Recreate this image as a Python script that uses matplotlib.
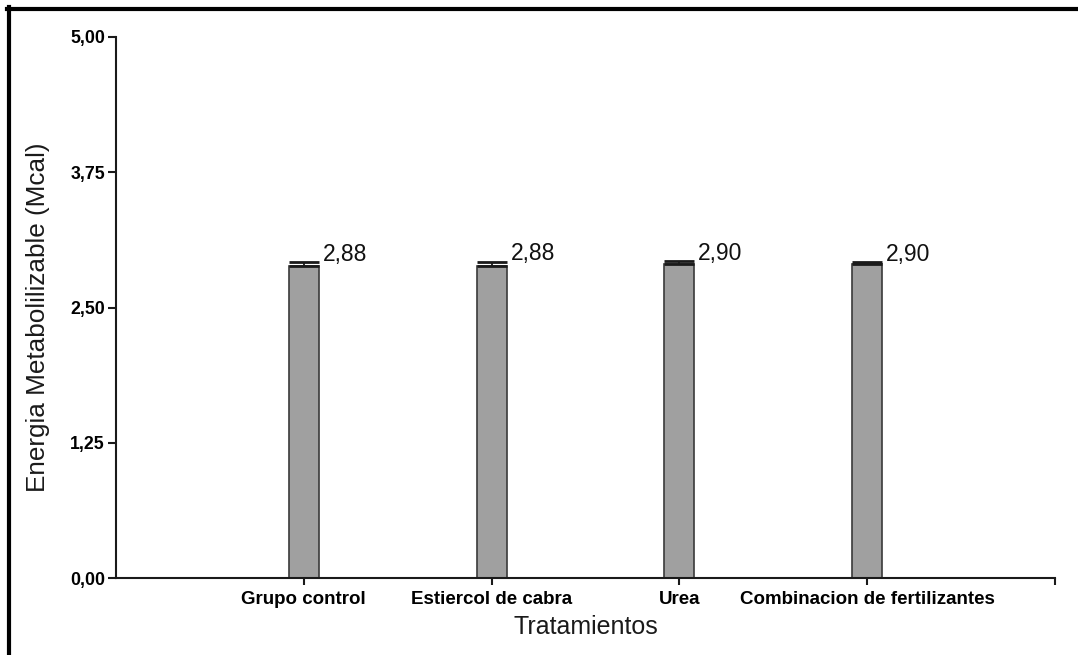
import matplotlib
matplotlib.use("Agg")
import matplotlib.pyplot as plt
from matplotlib.lines import Line2D

categories = ["Grupo control", "Estiercol de cabra", "Urea", "Combinacion de fertilizantes"]
values = [2.88, 2.88, 2.90, 2.90]
errors = [0.04, 0.045, 0.03, 0.02]
value_labels = ["2,88", "2,88", "2,90", "2,90"]
yticks = [0.0, 1.25, 2.5, 3.75, 5.0]
ytick_labels = ["0,00", "1,25", "2,50", "3,75", "5,00"]

plt.rcParams['font.family'] = ['Liberation Sans', 'DejaVu Sans']

W, H = 1078, 655
fig = plt.figure(figsize=(W/100, H/100), dpi=100)
ax = fig.add_axes([116/W, 1-578/H, (1055-116)/W, (578-37)/H])

x = list(range(len(categories)))
ax.bar(x, values, width=0.16, color="#a0a0a0", edgecolor="#3a3a3a", linewidth=1.2, zorder=2)
ax.errorbar(x, values, yerr=[[0]*len(values), errors], fmt="none", ecolor="#1a1a1a",
            elinewidth=1.3, capsize=10.8, capthick=2.0, zorder=3)
for xi, v, e, lab in zip(x, values, errors, value_labels):
    ax.text(xi + 0.1, v + e - 0.035, lab, fontsize=16.5, ha="left", va="bottom", color="#111111")

ax.set_xlim(-1, 4)
ax.set_ylim(0, 5)
ax.set_yticks(yticks)
ax.set_yticklabels(ytick_labels, fontsize=12.8, fontweight="bold")
ax.set_xticks(x)
ax.set_xticklabels(categories, fontsize=13.5, fontweight="bold")
ax.set_xticks([4], minor=True)
ax.tick_params(axis="y", direction="out", length=6, width=1.5, pad=2, color="#1a1a1a")
ax.tick_params(axis="x", which="both", direction="out", length=5, width=1.5, pad=4, color="#1a1a1a")

for s in ["top", "right"]:
    ax.spines[s].set_visible(False)
for s in ["left", "bottom"]:
    ax.spines[s].set_linewidth(1.5)
    ax.spines[s].set_color("#1a1a1a")

ax.set_ylabel("Energia Metabolilizable (Mcal)", fontsize=18.8, color="#1a1a1a")
ax.set_xlabel("Tratamientos", fontsize=18, color="#1a1a1a")
ax.yaxis.set_label_coords(-0.070, 0.482)
ax.xaxis.set_label_coords(0.5, -0.069)

# outer frame (top and left only)
fig.add_artist(Line2D([7/W, 1], [1-9/H, 1-9/H], transform=fig.transFigure, color="black", linewidth=3))
fig.add_artist(Line2D([9/W, 9/W], [0, 1-7/H], transform=fig.transFigure, color="black", linewidth=3))

fig.savefig("out.png", dpi=100)
